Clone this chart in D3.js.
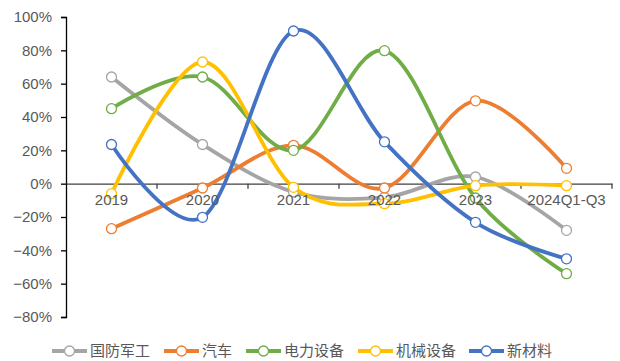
<!DOCTYPE html>
<html>
<head>
<meta charset="utf-8">
<script src="https://cdn.jsdelivr.net/npm/d3@7/dist/d3.min.js"></script>
<style>
  html, body { margin: 0; padding: 0; background: #fff; }
  svg { display: block; }
</style>
</head>
<body>
<svg id="chart" width="620" height="361"></svg>
<script>
// Year-over-year growth by sector (share, 1 = 100%)
const categories = ["2019", "2020", "2021", "2022", "2023", "2024Q1-Q3"];
const seriesNames = ["国防军工", "汽车", "电力设备", "机械设备", "新材料"];
const seriesColors = ["#A5A5A5", "#ED7D31", "#70AD47", "#FFC000", "#4472C4"];
const defense   = [0.64, 0.235, -0.05, -0.082, 0.04, -0.28];
const auto      = [-0.27, -0.026, 0.23, -0.026, 0.497, 0.092];
const power     = [0.45, 0.64, 0.20, 0.798, -0.086, -0.54];
const machinery = [-0.06, 0.73, -0.022, -0.12, -0.012, -0.012];
const materials = [0.235, -0.202, 0.916, 0.251, -0.232, -0.451];
const yTicks = [-0.8, -0.6, -0.4, -0.2, 0, 0.2, 0.4, 0.6, 0.8, 1.0];

const seriesValues = [defense, auto, power, machinery, materials];

const svg = d3.select("#chart");
const plot = { left: 66, right: 612, top: 17, bottom: 317 };

const x = d3.scaleBand().domain(categories).range([plot.left, plot.right]);
const y = d3.scaleLinear().domain([-0.8, 1.0]).range([plot.bottom, plot.top]);
const cx = c => x(c) + x.bandwidth() / 2;

const labelFont = "'Liberation Sans', Arial, sans-serif";
const textColor = "#595959";

// Y axis
const yAxis = svg.append("g")
  .attr("transform", `translate(${plot.left},0)`)
  .call(d3.axisLeft(y).tickValues(yTicks).tickFormat(d3.format(".0%")).tickSizeOuter(0).tickSize(5).tickPadding(9));
yAxis.select(".domain").attr("stroke", "#000").attr("stroke-width", 1.3);
yAxis.selectAll(".tick line").attr("stroke", "#000").attr("stroke-width", 1.3);
yAxis.selectAll("text").attr("fill", textColor).style("font-family", labelFont).style("font-size", "15px");

// X axis line along zero, with tick marks at band boundaries
const xAxis = svg.append("g")
  .attr("transform", `translate(0,${y(0)})`)
  .call(d3.axisBottom(x).tickSize(0).tickFormat(""));
xAxis.select(".domain").attr("stroke", "#404040").attr("stroke-width", 1.3);
const boundaries = categories.map(c => x(c)).concat([plot.right]).slice(1);
xAxis.selectAll("line.bound").data(boundaries).enter().append("line")
  .attr("class", "bound")
  .attr("x1", d => d).attr("x2", d => d)
  .attr("y1", 0).attr("y2", 5)
  .attr("stroke", "#404040").attr("stroke-width", 1.3);

// Smoothed series lines with hollow markers
const line = d3.line()
  .x((d, i) => cx(categories[i]))
  .y(d => y(d))
  .curve(d3.curveCardinal.tension(0));

seriesValues.forEach((vals, si) => {
  const g = svg.append("g");
  g.append("path")
    .attr("d", line(vals))
    .attr("fill", "none")
    .attr("stroke", seriesColors[si])
    .attr("stroke-width", 3.8)
    .attr("stroke-linecap", "round");
  g.selectAll("circle").data(vals).enter().append("circle")
    .attr("cx", (d, i) => cx(categories[i]))
    .attr("cy", d => y(d))
    .attr("r", 5)
    .attr("fill", "#fff")
    .attr("stroke", seriesColors[si])
    .attr("stroke-width", 1.3);
});

// Category labels drawn above the series
const xLabels = svg.append("g")
  .attr("transform", `translate(0,${y(0)})`)
  .call(d3.axisBottom(x).tickSize(0).tickPadding(11));
xLabels.select(".domain").remove();
xLabels.selectAll("text").attr("fill", textColor).style("font-family", labelFont).style("font-size", "15px");

// Legend
const legendX = [52, 164, 246, 358, 469];
const legendY = 351;
const legend = svg.append("g");
seriesNames.forEach((name, i) => {
  const lg = legend.append("g").attr("transform", `translate(${legendX[i]},${legendY})`);
  lg.append("line").attr("x1", 0).attr("x2", 35).attr("y1", 0).attr("y2", 0)
    .attr("stroke", seriesColors[i]).attr("stroke-width", 3.8);
  lg.append("circle").attr("cx", 17.5).attr("cy", 0).attr("r", 5)
    .attr("fill", "#fff").attr("stroke", seriesColors[i]).attr("stroke-width", 1.3);
  lg.append("text").attr("x", 38).attr("y", 0).attr("dy", "0.36em")
    .attr("fill", textColor)
    .style("font-family", "'Noto Sans CJK SC', sans-serif")
    .style("font-size", "15px")
    .text(name);
});
</script>
</body>
</html>
